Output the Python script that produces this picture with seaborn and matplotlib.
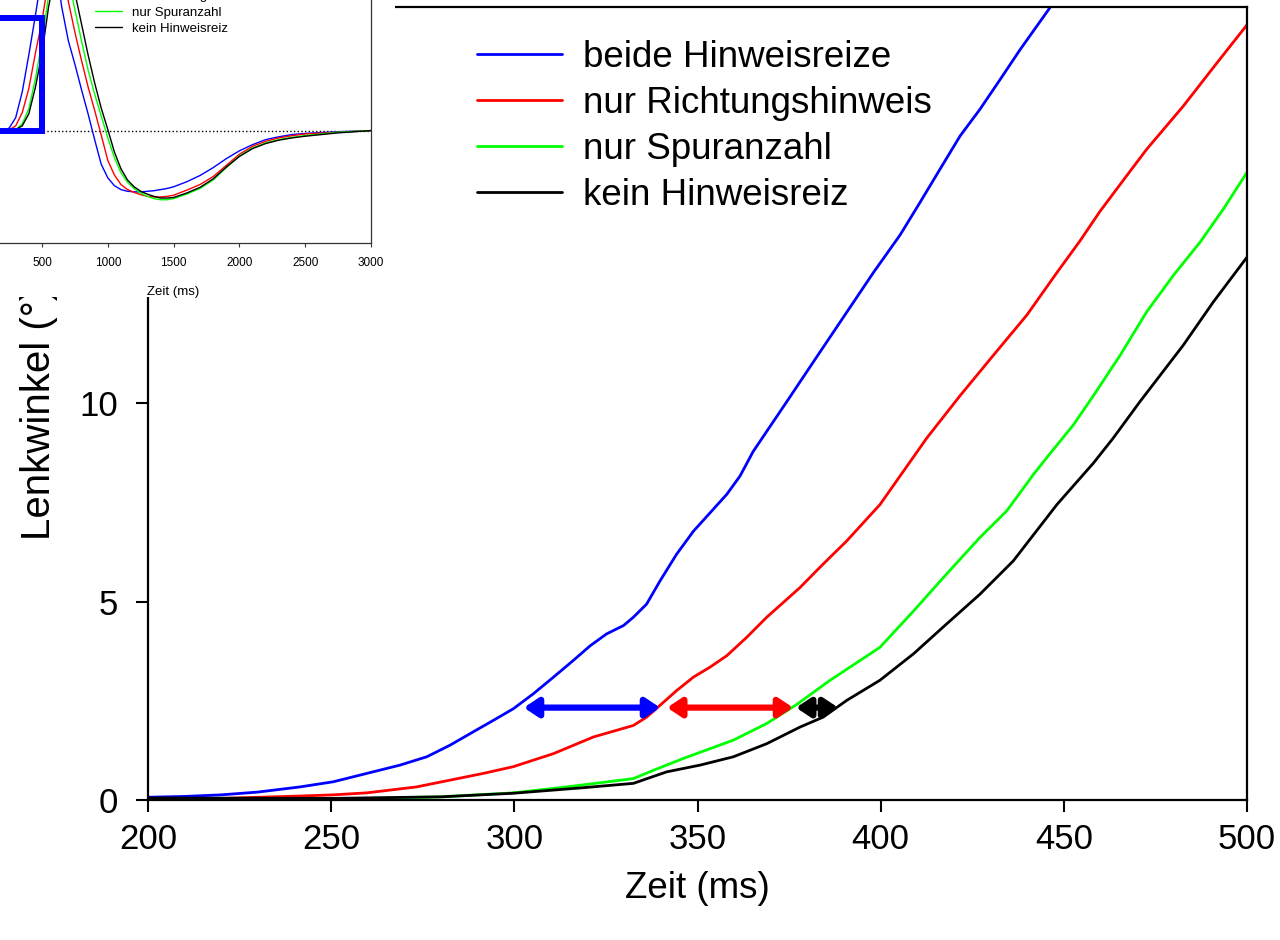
import matplotlib
matplotlib.use("Agg")
import matplotlib.pyplot as plt
import seaborn as sns
import pandas as pd
from matplotlib.lines import Line2D
from matplotlib.patches import Rectangle

conditions = ["beide Hinweisreize", "nur Richtungshinweis", "nur Spuranzahl", "kein Hinweisreiz"]
colors = ["#0000ff", "#ff0000", "#00ff00", "#000000"]

# Hauptgrafik: Lenkwinkel 200-500 ms
t_beide = [200, 210, 220, 230, 241.5, 250.6, 259.7, 268.8, 276.1, 282.4, 288.8, 294.3, 299.7, 305.2,
           310.7, 316.1, 320.7, 325.2, 329.8, 332.5, 336.1, 339.8, 344.3, 348.9, 353.4, 358, 361.6,
           365.2, 369.8, 374.4, 382, 390, 398, 405.3, 410.8, 416.2, 421.7, 427.1, 432.6, 438.1, 445.8, 452]
v_beide = [0.07, 0.09, 0.13, 0.2, 0.33, 0.46, 0.67, 0.88, 1.09, 1.38, 1.72, 2.01, 2.3, 2.68,
           3.1, 3.52, 3.89, 4.19, 4.4, 4.61, 4.94, 5.53, 6.2, 6.78, 7.24, 7.71, 8.17,
           8.79, 9.42, 10.05, 11.1, 12.2, 13.3, 14.25, 15.08, 15.91, 16.75, 17.42, 18.17, 18.93, 19.93, 20.8]

t_richtung = [200, 220, 241.5, 250.6, 259.7, 273.3, 282.4, 291.5, 299.7, 310.7, 321.6, 328, 332.5, 336.1,
              339.8, 344.3, 348.9, 353.4, 358, 363.4, 368.9, 373.4, 378, 384.3, 390.7, 399.8, 406.2,
              412.6, 421.7, 430.8, 439.9, 448.1, 454.4, 459.9, 467.2, 472.6, 482.6, 491.8, 500]
v_richtung = [0.03, 0.04, 0.1, 0.13, 0.18, 0.33, 0.5, 0.67, 0.84, 1.17, 1.59, 1.76, 1.88, 2.09,
              2.39, 2.76, 3.1, 3.35, 3.64, 4.1, 4.61, 4.98, 5.36, 5.95, 6.53, 7.45, 8.29,
              9.13, 10.2, 11.22, 12.23, 13.3, 14.1, 14.85, 15.75, 16.41, 17.5, 18.59, 19.55]

t_spur = [200, 250, 280, 299.7, 314.3, 332.5, 338, 346.2, 359.8, 368.9, 377.1, 386.2, 399.8, 409,
          418, 427.1, 434.4, 441.7, 445.3, 452.6, 458.1, 465.4, 472.6, 479.9, 487.2, 493.6, 500]
v_spur = [0.02, 0.02, 0.08, 0.18, 0.33, 0.54, 0.75, 1.05, 1.51, 1.93, 2.41, 3.02, 3.85, 4.77,
          5.7, 6.62, 7.29, 8.21, 8.63, 9.46, 10.2, 11.22, 12.31, 13.23, 14.07, 14.91, 15.83]

t_kein = [200, 250, 280, 299.7, 318.8, 332.5, 341.6, 350.7, 359.8, 368.9, 378, 384.3, 390.7, 399.8,
          409, 418, 427.1, 436.2, 448.1, 458.1, 463.5, 470.8, 482.6, 490.8, 500]
v_kein = [0.05, 0.04, 0.08, 0.17, 0.31, 0.42, 0.71, 0.88, 1.09, 1.42, 1.84, 2.09, 2.51, 3.02,
          3.69, 4.44, 5.19, 6.03, 7.45, 8.5, 9.13, 10.05, 11.47, 12.56, 13.69]

# Doppelpfeile (Zeitabstaende)
arrow_y = 2.33
arrow_start = [302.6, 341.7, 376.9]
arrow_end = [339.8, 376.1, 388.4]
arrow_colors = ["#0000ff", "#ff0000", "#000000"]

# Einsatz: gesamter Verlauf 0-3000 ms
inset_t = [0, 100, 200, 250, 300, 350, 400, 450, 500,
           550, 600, 650, 700, 750, 800, 850, 900, 950, 1000,
           1050, 1100, 1150, 1200, 1250, 1300, 1350, 1400, 1450, 1500,
           1600, 1700, 1800, 1900, 2000, 2100, 2200, 2300, 2400, 2500,
           2750, 3000]
inset_beide = [0, 0, 0.07, 0.43, 2.3, 6.9, 13.5, 20.5, 28,
               32, 30, 22, 16, 11.8, 7.3, 3.0, -1.6, -6.0, -8.4,
               -9.8, -10.5, -10.8, -10.9, -10.9, -10.8, -10.7, -10.5, -10.3, -10.0,
               -9.1, -8.0, -6.6, -5.0, -3.6, -2.5, -1.6, -1.1, -0.7, -0.5,
               -0.2, 0]
inset_richtung = [0, 0, 0.03, 0.13, 0.84, 3.2, 7.5, 13.8, 19.5,
                  27, 31, 29, 23, 17.5, 12.5, 7.8, 3.6, -0.8, -5.3,
                  -7.9, -9.6, -10.5, -11.0, -11.4, -11.7, -11.8, -11.8, -11.7, -11.5,
                  -10.6, -9.6, -8.2, -6.2, -4.2, -2.8, -1.9, -1.3, -0.9, -0.6,
                  -0.3, 0]
inset_spur = [0, 0, 0.01, 0.02, 0.18, 1.2, 3.9, 9.2, 15.8,
              24, 29, 30, 27, 21.5, 16, 10.8, 6.5, 2.6, -1.3,
              -4.8, -7.5, -9.2, -10.3, -11.1, -11.7, -12.1, -12.3, -12.3, -12.1,
              -11.3, -10.3, -8.8, -6.6, -4.5, -3.1, -2.2, -1.6, -1.2, -0.9,
              -0.3, 0]
inset_kein = [0, 0, 0.05, 0.04, 0.17, 0.85, 3.0, 7.7, 13.7,
              22, 28, 30, 28, 24.5, 19, 13.5, 8.5, 4.0, 0.2,
              -3.8, -6.8, -8.8, -10.0, -10.8, -11.3, -11.7, -12.0, -12.0, -11.9,
              -11.1, -10.1, -8.6, -6.5, -4.6, -3.2, -2.3, -1.7, -1.3, -1.0,
              -0.4, 0]

sns.set_theme(style="ticks")
plt.rcParams['font.family'] = ['Liberation Sans', 'DejaVu Sans']
plt.rcParams['text.color'] = 'black'
plt.rcParams['axes.labelcolor'] = 'black'
plt.rcParams['xtick.color'] = 'black'
plt.rcParams['ytick.color'] = 'black'

main_parts = []
for name, t, v in zip(conditions, [t_beide, t_richtung, t_spur, t_kein],
                      [v_beide, v_richtung, v_spur, v_kein]):
    main_parts.append(pd.DataFrame({'t': t, 'v': v, 'Bedingung': name}))
df_main = pd.concat(main_parts, ignore_index=True)

df_inset = pd.DataFrame({
    't': inset_t * 4,
    'v': inset_beide + inset_richtung + inset_spur + inset_kein,
    'Bedingung': [c for c in conditions for _ in inset_t],
})

W, H = 1280, 940
fig = plt.figure(figsize=(W / 100, H / 100), dpi=100)

# --- Hauptachse ---
ax = fig.add_axes([148 / W, 1 - 800 / H, 1099 / W, 793 / H])
ax.set_zorder(0)
sns.lineplot(data=df_main, x='t', y='v', hue='Bedingung', hue_order=conditions,
             palette=colors, estimator=None, linewidth=2, legend=False, ax=ax)
ax.set_xlim(200, 500)
ax.set_ylim(0, 20)
ax.set_xticks([200, 250, 300, 350, 400, 450, 500])
ax.set_yticks([0, 5, 10, 15, 20])
ax.set_xlabel("Zeit (ms)", fontsize=26.5, labelpad=11)
ax.set_ylabel("Lenkwinkel (°)", fontsize=29)
ax.yaxis.set_label_coords(-0.082, 0.487)
ax.tick_params(axis='both', direction='out', length=8.5, width=1.5, labelsize=25)
ax.tick_params(axis='x', pad=8)
ax.tick_params(axis='y', pad=13)
for s in ax.spines.values():
    s.set_visible(True)
    s.set_linewidth(1.6)
    s.set_color('black')

for x0, x1, c in zip(arrow_start, arrow_end, arrow_colors):
    ax.annotate('', xy=(x1, arrow_y), xytext=(x0, arrow_y),
                arrowprops=dict(arrowstyle='<|-|>,head_length=0.6,head_width=0.4',
                                color=c, lw=4.5, shrinkA=0, shrinkB=0, mutation_scale=14))

handles = [Line2D([], [], color=c, lw=2) for c in colors]
ax.legend(handles, conditions, loc='upper left', frameon=False, fontsize=26.5,
          bbox_to_anchor=(477 / W, 1 - 40 / H), bbox_transform=fig.transFigure,
          borderpad=0, borderaxespad=0, handlelength=2.3, handletextpad=0.57,
          labelspacing=0.3)

# --- weisser Hintergrund des Einsatzbildes ---
fig.patches.append(Rectangle((0, 1 - 297 / H), 395 / W, 297 / H, transform=fig.transFigure,
                             facecolor='white', edgecolor='none', zorder=1))

# --- Einsatz ---
axi = fig.add_axes([-23.8 / W, 1 - 243 / H, 394.8 / W, 281 / H])
axi.set_zorder(2)
axi.patch.set_alpha(0)
axi.axhline(0, color='black', ls=':', lw=1)
sns.lineplot(data=df_inset, x='t', y='v', hue='Bedingung', hue_order=conditions,
             palette=colors, estimator=None, linewidth=1.0, legend=False, ax=axi)
axi.add_patch(Rectangle((0, 0), 500, 20, fill=False, edgecolor='#0000ff', lw=4.3, zorder=5))
axi.set_xlim(0, 3000)
axi.set_ylim(-20, 30)
axi.set_xticks([0, 500, 1000, 1500, 2000, 2500, 3000])
axi.set_yticks([])
axi.set_xlabel("Zeit (ms)", fontsize=9.5, labelpad=12)
axi.set_ylabel("")
axi.tick_params(axis='x', direction='out', length=3, width=0.8, labelsize=8.5, pad=7,
                color='#333333')
for side in ['top', 'left']:
    axi.spines[side].set_visible(False)
for side in ['bottom', 'right']:
    axi.spines[side].set_linewidth(0.9)
    axi.spines[side].set_color('#333333')

inset_handles = [Line2D([], [], color=c, lw=1.0) for c in colors]
axi.legend(inset_handles, conditions, loc='upper left', frameon=False, fontsize=9.5,
           bbox_to_anchor=(95 / W, 1 + 26 / H), bbox_transform=fig.transFigure,
           borderpad=0, borderaxespad=0, handlelength=2.05, handletextpad=0.76,
           labelspacing=0.3)

fig.savefig("out.png", dpi=100)
